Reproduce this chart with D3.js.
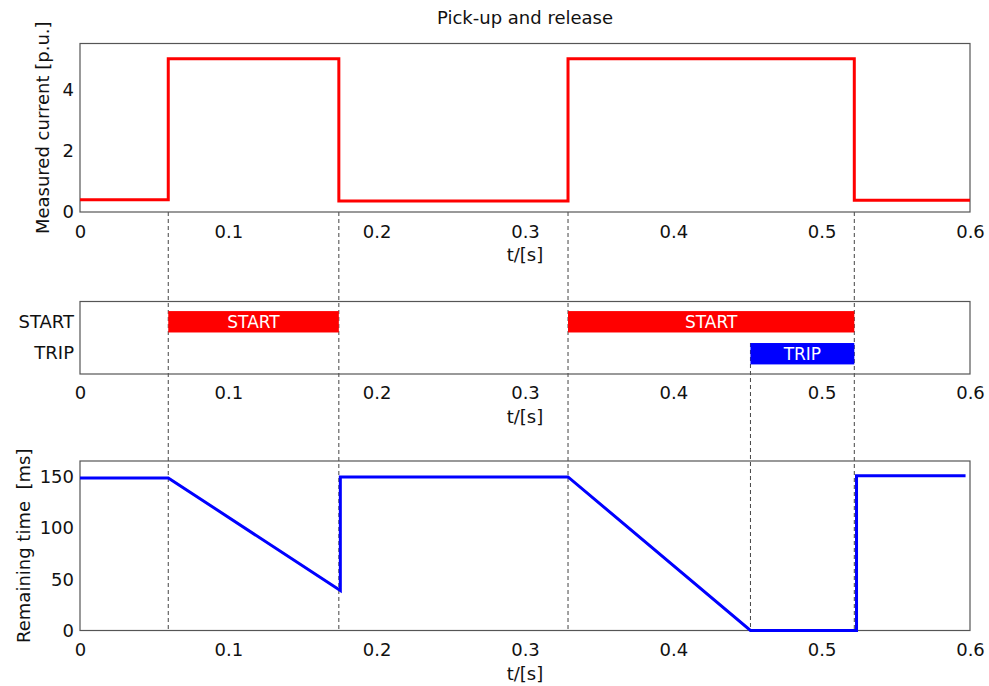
<!DOCTYPE html>
<html>
<head>
<meta charset="utf-8">
<script src="https://cdn.jsdelivr.net/npm/d3@7"></script>
<style>
  body { margin: 0; background: #fff; }
  svg { display: block; }
  text { font-family: "DejaVu Sans", Verdana, sans-serif; }
</style>
</head>
<body>
<svg id="chart" width="989" height="686"></svg>
<script>
// ---- data ----
const title = "Pick-up and release";
const xTicks = [0, 0.1, 0.2, 0.3, 0.4, 0.5, 0.6];
const xLabel = "t/[s]";

// measured current (step changes)
const currentT = [0, 0.0595, 0.1745, 0.329, 0.522, 0.6];
const currentV = [0.4, 5, 0.36, 5, 0.38, 0.38];
const currentTicks = [0, 2, 4];
const currentLabel = "Measured current [p.u.]";

// relay state bars
const stateRows = ["START", "TRIP"];
const stateName = ["START", "START", "TRIP"];
const stateFrom = [0.0595, 0.329, 0.452];
const stateTo = [0.1745, 0.522, 0.522];

// remaining time
const remT = [0, 0.0595, 0.1755, 0.1755, 0.329, 0.452, 0.5235, 0.5235, 0.597];
const remV = [149, 149, 39, 150, 150, 0, 0, 151, 151];
const remTicks = [0, 50, 100, 150];
const remLabel = "Remaining time  [ms]";

// event markers
const eventT = [0.0595, 0.1745, 0.329, 0.522];
const tripT = [0.452];

// ---- layout ----
const svg = d3.select("#chart");
const L = 80, R = 970;
const P1 = {top: 43.5, bottom: 212};
const P2 = {top: 301.5, bottom: 374};
const P3 = {top: 461, bottom: 630.5};
const fs = 18;
const fmt = d3.format("");

const x = d3.scaleLinear().domain([0, 0.6]).range([L, R]);
const y1 = d3.scaleLinear().domain([0, 5.5]).range([P1.bottom, P1.top]);
const y2 = d3.scaleBand().domain(stateRows).range([P2.top, P2.bottom]).paddingInner(0.33).paddingOuter(0.3);
const y3 = d3.scaleLinear().domain([0, 165.5]).range([P3.bottom, P3.top]);

const colRed = "#ff0000", colBlue = "#0000ff", frameCol = "#555";

// dashed markers (behind)
const dash = svg.append("g");
eventT.forEach(t => {
  dash.append("line").attr("x1", x(t)).attr("x2", x(t))
    .attr("y1", P1.bottom).attr("y2", P3.bottom)
    .attr("stroke", "#444").attr("stroke-width", 1).attr("stroke-dasharray", "4,3");
});
tripT.forEach(t => {
  dash.append("line").attr("x1", x(t)).attr("x2", x(t))
    .attr("y1", y2("TRIP")).attr("y2", P3.bottom)
    .attr("stroke", "#444").attr("stroke-width", 1).attr("stroke-dasharray", "4,3");
});

function frame(P) {
  svg.append("rect").attr("x", L).attr("y", P.top).attr("width", R - L).attr("height", P.bottom - P.top)
    .attr("fill", "none").attr("stroke", frameCol).attr("stroke-width", 1.2);
}

function xAxis(P, pad) {
  const g = svg.append("g").attr("transform", `translate(0,${P.bottom})`)
    .call(d3.axisBottom(x).tickValues(xTicks).tickSize(0).tickPadding(pad).tickFormat(fmt));
  g.select(".domain").remove();
  g.selectAll("text").attr("font-size", fs).attr("fill", "#111").attr("font-family", "DejaVu Sans, Verdana, sans-serif");
  svg.append("text").attr("x", (L + R) / 2).attr("y", P.bottom + 49)
    .attr("text-anchor", "middle").attr("font-size", fs).attr("fill", "#111").text(xLabel);
}

function yAxis(scale, ticks, P) {
  const ax = d3.axisLeft(scale).tickSize(0).tickPadding(6);
  if (ticks) ax.tickValues(ticks).tickFormat(fmt);
  const g = svg.append("g").attr("transform", `translate(${L},0)`).call(ax);
  g.select(".domain").remove();
  g.selectAll("text").attr("font-size", fs).attr("fill", "#111").attr("font-family", "DejaVu Sans, Verdana, sans-serif");
}

function yLabel(text, P, cx) {
  const cy = (P.top + P.bottom) / 2;
  svg.append("text").attr("transform", `translate(${cx},${cy}) rotate(-90)`)
    .attr("text-anchor", "middle").attr("dominant-baseline", "central")
    .attr("font-size", fs).attr("fill", "#111").style("white-space", "pre").text(text);
}

// title
svg.append("text").attr("x", (L + R) / 2).attr("y", 24).attr("text-anchor", "middle")
  .attr("font-size", fs).attr("fill", "#111").text(title);

// panel 1
frame(P1);
const curData = currentT.map((t, i) => [t, currentV[i]]);
svg.append("path").datum(curData)
  .attr("d", d3.line().x(d => x(d[0])).y(d => y1(d[1])).curve(d3.curveStepAfter))
  .attr("fill", "none").attr("stroke", colRed).attr("stroke-width", 3);
yAxis(y1, currentTicks, P1);
xAxis(P1, 13);
yLabel(currentLabel, P1, 42);

// panel 2
frame(P2);
const bars = stateName.map((n, i) => ({n, a: stateFrom[i], b: stateTo[i]}));
const bg = svg.append("g").selectAll("g").data(bars).join("g");
bg.append("rect").attr("x", d => x(d.a)).attr("y", d => y2(d.n))
  .attr("width", d => x(d.b) - x(d.a)).attr("height", y2.bandwidth())
  .attr("fill", d => d.n === "START" ? colRed : colBlue);
bg.append("text").attr("x", d => (x(d.a) + x(d.b)) / 2).attr("y", d => y2(d.n) + y2.bandwidth() / 2)
  .attr("text-anchor", "middle").attr("dominant-baseline", "central")
  .attr("font-size", 17).attr("fill", "#fff").text(d => d.n);
yAxis(y2, null, P2);
xAxis(P2, 12);

// panel 3
frame(P3);
const remData = remT.map((t, i) => [t, remV[i]]);
svg.append("path").datum(remData)
  .attr("d", d3.line().x(d => x(d[0])).y(d => y3(d[1])))
  .attr("fill", "none").attr("stroke", colBlue).attr("stroke-width", 3);
yAxis(y3, remTicks, P3);
xAxis(P3, 13);
yLabel(remLabel, P3, 23);
</script>
</body>
</html>
